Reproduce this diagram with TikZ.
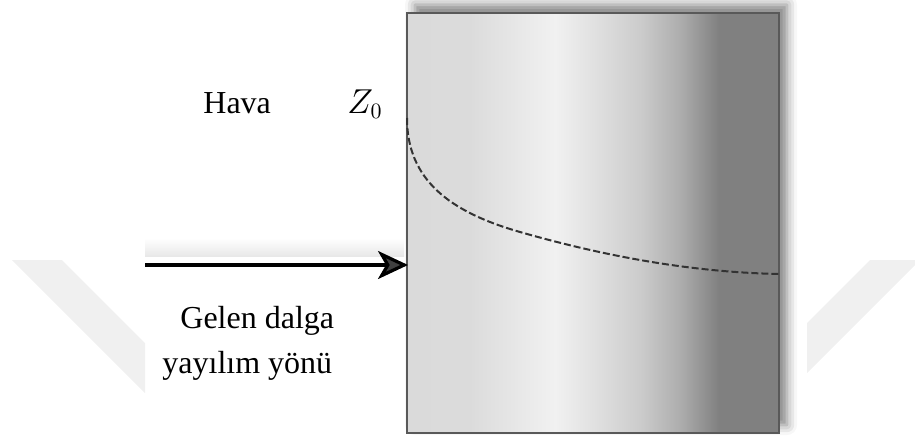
\documentclass[tikz,border=0pt]{standalone}
\usepackage{fontspec}
\setmainfont{Liberation Serif}
\usetikzlibrary{arrows.meta,shadows.blur}

% grey steps across the slab
\definecolor{slabA}{gray}{0.855}
\definecolor{slabB}{gray}{0.86}
\definecolor{slabC}{gray}{0.945}
\definecolor{slabD}{gray}{0.87}
\definecolor{slabE}{gray}{0.80}
\definecolor{slabF}{gray}{0.68}
\definecolor{slabG}{gray}{0.50}
\pgfdeclarehorizontalshading{slabgrey}{100bp}{%
  color(0bp)=(slabA); color(25bp)=(slabA); color(33.5bp)=(slabB);
  color(44.9bp)=(slabC); color(51bp)=(slabD); color(56.3bp)=(slabE);
  color(61.7bp)=(slabF); color(67bp)=(slabG); color(100bp)=(slabG)}

\begin{document}
\begin{tikzpicture}[x={(0.5pt,0pt)}, y={(0pt,-0.5pt)},
  txt/.style={inner sep=0pt, font=\fontsize{16}{20}\selectfont},
  wave/.style={line width=1.6pt, -{Stealth[length=15pt, width=14pt, inset=4pt]}},
  profile/.style={dash pattern=on 3.5pt off 1.5pt, line width=1pt, black!80},
  wmark/.style={black!6}]

\useasboundingbox (0,0) rectangle (915,439);

% Dimensions of the slab
\def\SL{407}  % left
\def\SR{779}  % right
\def\ST{12.7} % top
\def\SB{433}  % bottom

% Watermark
\fill[wmark] (12,260) -- (62,260) -- (145,343) -- (145,393) -- cycle;
\fill[wmark] (870,260) -- (915,260) -- (915,265) -- (807,373) -- (807,323) -- cycle;

% Shadow over the arrow
\shade[top color=white, bottom color=black!9] (145,238) rectangle (404,256);

% Slab
\shade[shading=slabgrey, blur shadow={shadow xshift=4pt, shadow yshift=4pt,
  shadow blur radius=5pt, shadow opacity=50}] (\SL,\ST) rectangle (\SR,\SB);
\draw[black!65, line width=0.8pt] (\SL,\ST) rectangle (\SR,\SB);

% Impedance profile
\draw[profile] (\SL,118) .. controls (\SL,180) and (450,212) .. (520,232)
  .. controls (590,252) and (680,272) .. (\SR,274);

% Incident wave
\coordinate (src) at (145,265);
\coordinate (hit) at (\SL+1,265);
\draw[wave] (src) -- (hit);

% Labels
\node[txt, anchor=base west] (hava) at (203,113) {Hava};
\node[txt, anchor=base west] (zo) at (347,113) {$Z_0$};
\node[txt, anchor=base west] (gelen) at (180,328) {Gelen dalga};
\node[txt, anchor=base west] (yayilim) at (162,373) {yayılım yönü};

\end{tikzpicture}
\end{document}
